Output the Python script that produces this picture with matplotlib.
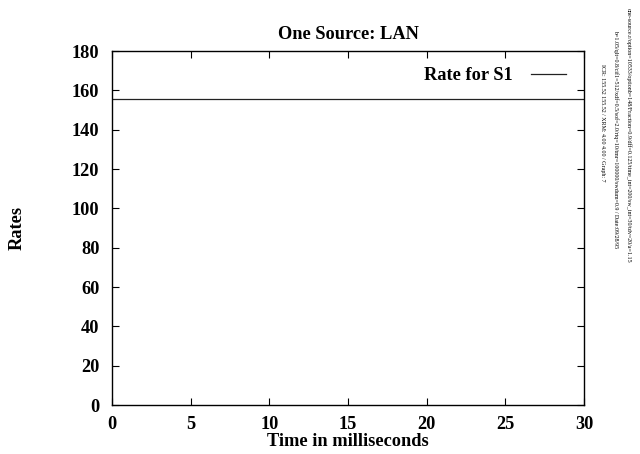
import matplotlib
matplotlib.use("Agg")
import matplotlib.pyplot as plt

# Data
time_ms = [0, 30]
rate_s1 = [155.52, 155.52]
x_ticks = [0, 5, 10, 15, 20, 25, 30]
y_ticks = [0, 20, 40, 60, 80, 100, 120, 140, 160, 180]
side_notes = [
    "one-source.r/option=10533/optionb=148/Fraction=0.9/dff=0.125/time_int=200/sw_int=30/tdv=20/a=1.15",
    "b=1.05/qlt=0.8/cif1=512/xdf=0.5/sof=2.0/rtq=10/tmr=100000/swdum=0.9 / Date:09/28/95",
    "ICR: 155.52 155.52 / XRM: 4.00 4.00 / Graph: 7",
]

plt.rcParams['font.family'] = ['Liberation Serif', 'DejaVu Serif']

fig = plt.figure(figsize=(6.4, 4.54), dpi=100)
ax = fig.add_axes([112/640, 1-405/454, (584-112)/640, (405-51)/454])

ax.plot(time_ms, rate_s1, color='#222222', lw=0.9, label='Rate for S1')
ax.set_xlim(0, 30)
ax.set_ylim(0, 180)
ax.set_xticks(x_ticks)
ax.set_yticks(y_ticks)
ax.tick_params(direction='in', top=True, right=True, length=5, width=0.8,
               labelsize=13.2)
ax.tick_params(axis='x', pad=8)
ax.tick_params(axis='y', pad=9)
for lab in ax.get_xticklabels() + ax.get_yticklabels():
    lab.set_fontweight('bold')
for s in ax.spines.values():
    s.set_linewidth(1.0)

ax.set_title('One Source: LAN', fontsize=13.2, fontweight='bold', pad=9)
ax.set_xlabel('Time in milliseconds', fontsize=13.2, fontweight='bold', labelpad=0)
fig.text(17/640, 1-228/454, 'Rates', rotation=90, fontsize=13.2, fontweight='bold',
         ha='center', va='center')

leg = ax.legend(loc='upper right', frameon=False, markerfirst=False,
                prop={'size': 13.2, 'weight': 'bold'}, handlelength=1.9,
                handletextpad=1.0, bbox_to_anchor=(0.985, 0.985), borderaxespad=0.2)

xs = [629, 616, 603]
ys = [8, 30, 64]
for t, x, y in zip(side_notes, xs, ys):
    fig.text(x/640, 1-y/454, t, rotation=-90, fontsize=4.35, ha='center', va='top')

fig.savefig('out.png', dpi=100)
